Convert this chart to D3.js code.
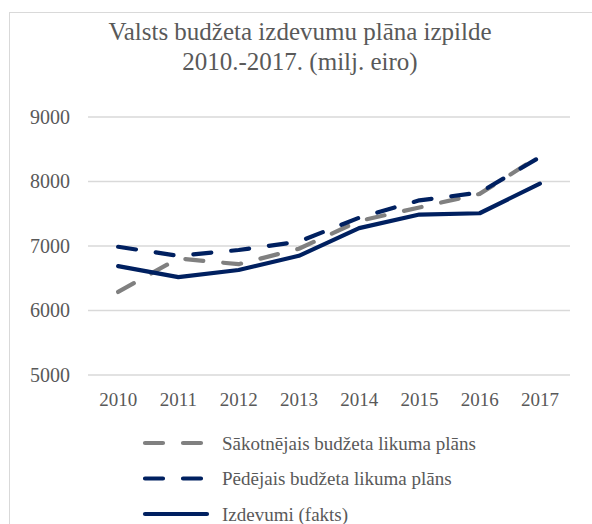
<!DOCTYPE html>
<html><head><meta charset="utf-8">
<script src="https://cdn.jsdelivr.net/npm/d3@7"></script>
<style>body{margin:0;background:#fff}svg{display:block}
svg text{font-family:"Liberation Serif","Times New Roman",Times,"DejaVu Serif",serif;}</style>
</head><body>
<script>
const years = ["2010","2011","2012","2013","2014","2015","2016","2017"];
const initialPlan = [6280, 6800, 6710, 6950, 7380, 7590, 7800, 8390];
const finalPlan = [6980, 6840, 6930, 7060, 7430, 7700, 7820, 8370];
const actual = [6680, 6510, 6620, 6840, 7270, 7480, 7500, 7960];
const yTicks = [5000, 6000, 7000, 8000, 9000];
const seriesNames = ["Sākotnējais budžeta likuma plāns", "Pēdējais budžeta likuma plāns", "Izdevumi (fakts)"];
const titleLines = ["Valsts budžeta izdevumu plāna izpilde", "2010.-2017. (milj. eiro)"];

const W = 592, H = 524;
const svg = d3.select("body").append("svg").attr("width", W).attr("height", H);
const txt = "#595959";

svg.append("rect").attr("x", 9.5).attr("y", 12.5).attr("width", 600).attr("height", 600)
  .attr("fill", "#fff").attr("stroke", "#d9d9d9");

svg.selectAll("text.title").data(titleLines).join("text")
  .attr("x", 300).attr("y", (d, i) => 40 + i * 30)
  .attr("text-anchor", "middle").attr("font-size", 25)
  .attr("fill", txt).text(d => d);

const x = d3.scaleBand().domain(years).range([88, 570]);
const y = d3.scaleLinear().domain([5000, 9000]).range([374.5, 116.5]);

const yAxis = svg.append("g").attr("transform", "translate(88,0)")
  .call(d3.axisLeft(y).tickValues(yTicks).tickSize(-482).tickFormat(d3.format("d")));
yAxis.attr("font-family", null);
yAxis.select(".domain").remove();
yAxis.selectAll("line").attr("stroke", "#d9d9d9").attr("stroke-width", 1.3);
yAxis.selectAll("text").attr("x", -18).attr("dy", "0.34em").attr("font-size", 20).attr("fill", txt);

const xAxis = svg.append("g").attr("transform", "translate(0,374.5)")
  .call(d3.axisBottom(x).tickSize(0));
xAxis.attr("font-family", null);
xAxis.select(".domain").remove();
xAxis.selectAll("text").attr("dy", 0).attr("y", 31.5).attr("font-size", 19).attr("fill", txt);

const line = d3.line().x((d, i) => x(years[i]) + x.bandwidth() / 2).y(d => y(d));
const styles = [
  {data: initialPlan, color: "#808080", dash: "18,20"},
  {data: finalPlan, color: "#002060", dash: "18,20"},
  {data: actual, color: "#002060", dash: null}
];
styles.forEach(s => {
  svg.append("path").datum(s.data).attr("d", line).attr("fill", "none")
    .attr("stroke", s.color).attr("stroke-width", 4.2)
    .attr("stroke-linecap", "round").attr("stroke-linejoin", "round")
    .attr("stroke-dasharray", s.dash);
});

const leg = svg.append("g");
styles.forEach((s, i) => {
  const yy = 443 + i * 35.5;
  leg.append("line").attr("x1", 145).attr("x2", 207).attr("y1", yy).attr("y2", yy)
    .attr("stroke", s.color).attr("stroke-width", 4.2).attr("stroke-linecap", "round")
    .attr("stroke-dasharray", s.dash);
  leg.append("text").attr("x", 222).attr("y", yy + 6.5)
    .attr("font-size", 19).attr("fill", txt).text(seriesNames[i]);
});
</script>
</body></html>
